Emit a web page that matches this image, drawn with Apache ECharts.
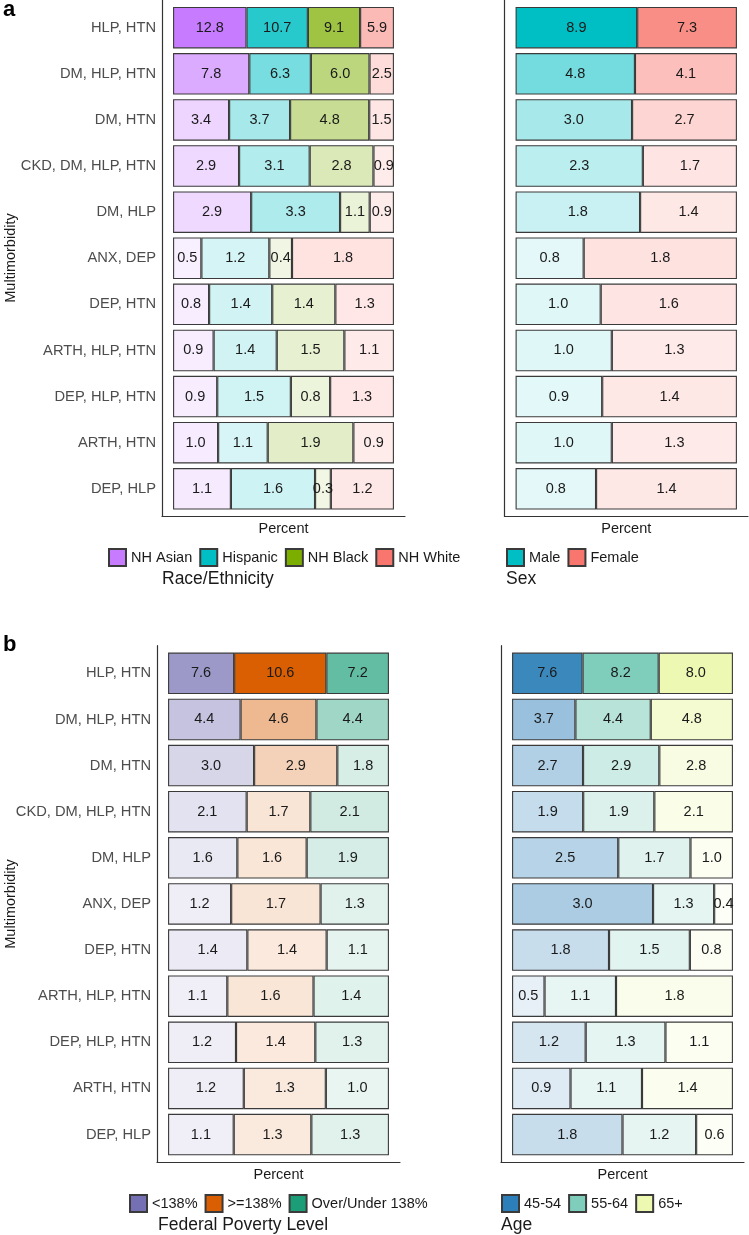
<!DOCTYPE html>
<html>
<head>
<meta charset="utf-8">
<script src="https://cdn.jsdelivr.net/npm/echarts@6/dist/echarts.min.js"></script>
<style>
html,body{margin:0;padding:0;background:#fff;}
#chart{width:749px;height:1235px;}
</style>
</head>
<body>
<div id="chart"></div>
<script>
// ---------- data ----------
const categories = ['HLP, HTN','DM, HLP, HTN','DM, HTN','CKD, DM, HLP, HTN','DM, HLP','ANX, DEP','DEP, HTN','ARTH, HLP, HTN','DEP, HLP, HTN','ARTH, HTN','DEP, HLP'];

const raceGroups = ['NH Asian','Hispanic','NH Black','NH White'];
const raceNHAsian  = [12.8,7.8,3.4,2.9,2.9,0.5,0.8,0.9,0.9,1.0,1.1];
const raceHispanic = [10.7,6.3,3.7,3.1,3.3,1.2,1.4,1.4,1.5,1.1,1.6];
const raceNHBlack  = [9.1,6.0,4.8,2.8,1.1,0.4,1.4,1.5,0.8,1.9,0.3];
const raceNHWhite  = [5.9,2.5,1.5,0.9,0.9,1.8,1.3,1.1,1.3,0.9,1.2];

const sexGroups = ['Male','Female'];
const sexMale   = [8.9,4.8,3.0,2.3,1.8,0.8,1.0,1.0,0.9,1.0,0.8];
const sexFemale = [7.3,4.1,2.7,1.7,1.4,1.8,1.6,1.3,1.4,1.3,1.4];

const fplGroups = ['<138%','>=138%','Over/Under 138%'];
const fplBelow     = [7.6,4.4,3.0,2.1,1.6,1.2,1.4,1.1,1.2,1.2,1.1];
const fplAbove     = [10.6,4.6,2.9,1.7,1.6,1.7,1.4,1.6,1.4,1.3,1.3];
const fplOverUnder = [7.2,4.4,1.8,2.1,1.9,1.3,1.1,1.4,1.3,1.0,1.3];

const ageGroups = ['45-54','55-64','65+'];
const age4554 = [7.6,3.7,2.7,1.9,2.5,3.0,1.8,0.5,1.2,0.9,1.8];
const age5564 = [8.2,4.4,2.9,1.9,1.7,1.3,1.5,1.1,1.3,1.1,1.2];
const age65   = [8.0,4.8,2.8,2.1,1.0,0.4,0.8,1.8,1.1,1.4,0.6];

// ---------- styling / layout ----------
const FONT = 'Liberation Sans, Arial, sans-serif';
const panels = [
  {groups: raceGroups, values: [raceNHAsian, raceHispanic, raceNHBlack, raceNHWhite],
   colors: ['#C77CFF','#00BFC4','#7CAE00','#F8766D'],
   left: 162, top: 0, width: 243, height: 516.5, labels: true,
   legendLeft: 108, legendTop: 548, title: 'Race/Ethnicity', titleX: 162, titleY: 579},
  {groups: sexGroups, values: [sexMale, sexFemale],
   colors: ['#00BFC4','#F8766D'],
   left: 504.5, top: 0, width: 243.5, height: 516.5, labels: false,
   legendLeft: 506, legendTop: 548, title: 'Sex', titleX: 506, titleY: 579},
  {groups: fplGroups, values: [fplBelow, fplAbove, fplOverUnder],
   colors: ['#7570B3','#D95F02','#1B9E77'],
   left: 157, top: 645.7, width: 243, height: 516.5, labels: true,
   legendLeft: 129, legendTop: 1194, title: 'Federal Poverty Level', titleX: 158, titleY: 1225},
  {groups: ageGroups, values: [age4554, age5564, age65],
   colors: ['#2C7FB8','#7FCDBB','#EDF8B1'],
   left: 501, top: 645.7, width: 243, height: 516.5, labels: false,
   legendLeft: 501, legendTop: 1194, title: 'Age', titleX: 501, titleY: 1225}
];

function hexToRgba(hex, a) {
  const n = parseInt(hex.slice(1), 16);
  return 'rgba(' + ((n >> 16) & 255) + ',' + ((n >> 8) & 255) + ',' + (n & 255) + ',' + a.toFixed(3) + ')';
}

const grid = [], xAxis = [], yAxis = [], series = [], legend = [], graphic = [];
const nCat = categories.length;

panels.forEach((p, pi) => {
  const pitch = p.height / (nCat + 0.2);
  // main grid for bars (category bands)
  grid.push({left: p.left, top: p.top + 0.1 * pitch, width: p.width, height: nCat * pitch});
  xAxis.push({type: 'value', gridIndex: pi, min: -0.05, max: 1.05, show: false});
  yAxis.push({type: 'category', gridIndex: pi, data: categories, inverse: true,
    axisLine: {show: false}, axisTick: {show: false}, splitLine: {show: false},
    axisLabel: {show: p.labels, color: '#4D4D4D', fontSize: 14.7, fontFamily: FONT, margin: 6}});

  // alpha range mapped from values (like ggplot scale_alpha, 0.1..1)
  const all = [].concat(...p.values);
  const vmin = Math.min(...all), vmax = Math.max(...all);
  const totals = categories.map((c, ci) => p.values.reduce((s, arr) => s + arr[ci], 0));

  p.groups.forEach((g, gi) => {
    series.push({
      name: g, type: 'bar', stack: 'panel' + pi, xAxisIndex: pi, yAxisIndex: pi,
      barCategoryGap: '10%',
      itemStyle: {color: p.colors[gi], borderColor: '#3a3a3a', borderWidth: 1.1},
      label: {show: true, position: 'inside', color: '#1a1a1a', fontSize: 14.5, fontFamily: FONT,
        formatter: (prm) => prm.data.raw.toFixed(1)},
      emphasis: {disabled: true},
      data: p.values[gi].map((v, ci) => ({
        value: v / totals[ci], raw: v,
        itemStyle: {color: hexToRgba(p.colors[gi], 0.1 + 0.9 * (v - vmin) / (vmax - vmin))}
      }))
    });
  });

  legend.push({
    data: p.groups, left: p.legendLeft, top: p.legendTop, orient: 'horizontal', padding: 0,
    icon: 'rect', itemWidth: 17, itemHeight: 17, itemGap: 7, selectedMode: false,
    textStyle: {color: '#1a1a1a', fontSize: 14.5, fontFamily: FONT}
  });

  graphic.push({type: 'text', x: p.titleX, y: p.titleY,
    style: {text: p.title, fontSize: 17.5, fontFamily: FONT, fill: '#1a1a1a',
      textAlign: 'left', textVerticalAlign: 'middle', align: 'left', verticalAlign: 'middle'}});
  graphic.push({type: 'text', x: p.left + p.width / 2, y: p.top + p.height + 12.5,
    style: {text: 'Percent', fontSize: 14.5, fontFamily: FONT, fill: '#1a1a1a',
      textAlign: 'center', textVerticalAlign: 'middle', align: 'center', verticalAlign: 'middle'}});
});

// overlay grids for axis lines (ggplot expanded panel)
panels.forEach((p, pi) => {
  const gi = panels.length + pi;
  grid.push({left: p.left, top: p.top, width: p.width, height: p.height});
  xAxis.push({type: 'value', gridIndex: gi, min: 0, max: 1,
    axisLine: {show: true, onZero: false, lineStyle: {color: '#333', width: 1.2}},
    axisTick: {show: false}, axisLabel: {show: false}, splitLine: {show: false}});
  yAxis.push({type: 'value', gridIndex: gi, min: 0, max: 1,
    axisLine: {show: true, onZero: false, lineStyle: {color: '#333', width: 1.2}},
    axisTick: {show: false}, axisLabel: {show: false}, splitLine: {show: false}});
});

// panel tags and y titles
graphic.push({type: 'text', x: 3, y: 10,
  style: {text: 'a', fontSize: 22, fontWeight: 'bold', fontFamily: FONT, fill: '#000',
    textAlign: 'left', textVerticalAlign: 'middle', align: 'left', verticalAlign: 'middle'}});
graphic.push({type: 'text', x: 3, y: 645,
  style: {text: 'b', fontSize: 22, fontWeight: 'bold', fontFamily: FONT, fill: '#000',
    textAlign: 'left', textVerticalAlign: 'middle', align: 'left', verticalAlign: 'middle'}});
[258, 904].forEach(yc => {
  graphic.push({type: 'text', x: 11, y: yc, rotation: Math.PI / 2,
    style: {text: 'Multimorbidity', fontSize: 14.5, fontFamily: FONT, fill: '#1a1a1a',
      textAlign: 'center', textVerticalAlign: 'middle', align: 'center', verticalAlign: 'middle'}});
});

const chart = echarts.init(document.getElementById('chart'), null, {renderer: 'canvas'});
chart.setOption({
  backgroundColor: '#ffffff',
  animation: false,
  grid, xAxis, yAxis, series, legend, graphic
});
</script>
</body>
</html>
